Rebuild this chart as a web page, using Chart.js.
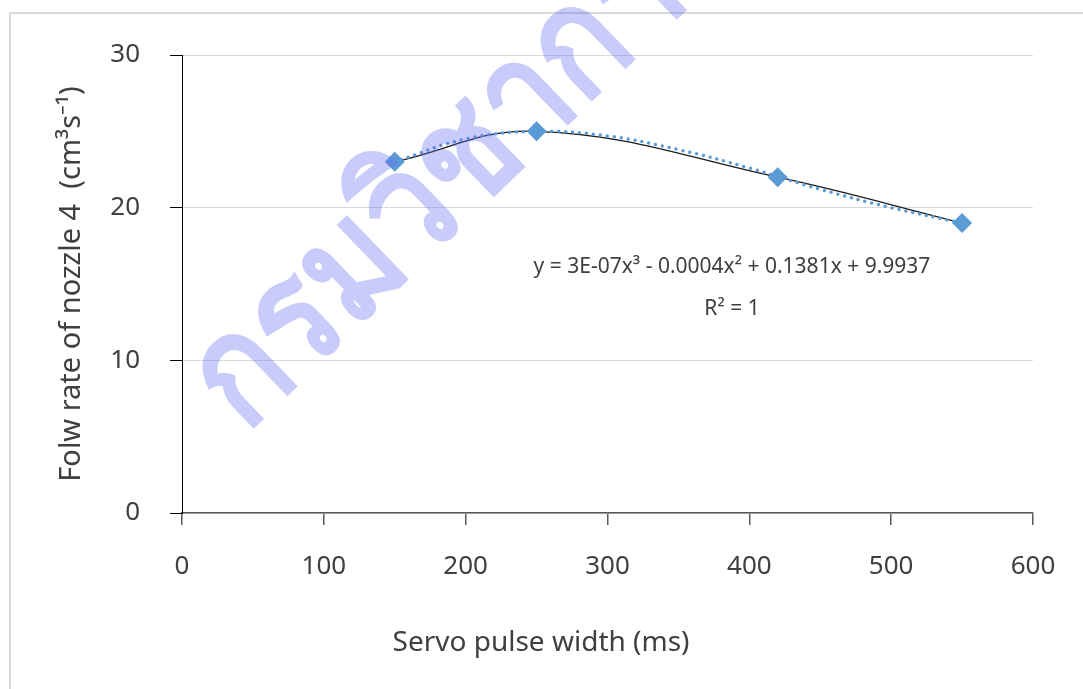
<!DOCTYPE html>
<html lang="en">
<head>
    <meta charset="UTF-8">
    <title>Servo pulse width vs flow rate</title>
    <script src="https://cdn.jsdelivr.net/npm/chart.js"></script>
    <style>
        body {
            margin: 0;
            background: #ffffff;
            font-family: "Noto Sans", sans-serif;
        }
        .frame {
            position: absolute;
            left: 9px;
            top: 12px;
            width: 1083px;
            height: 689px;
            border-left: 2px solid #d9d9d9;
            border-top: 2px solid #d9d9d9;
            box-sizing: border-box;
        }
        .wrap {
            position: absolute;
            left: 0;
            top: 0;
            width: 1083px;
            height: 689px;
        }
    </style>
</head>
<body>
    <div class="frame"></div>
    <div class="wrap"><canvas id="flowChart"></canvas></div>

    <script>
        // measured points (servo pulse width, flow rate of nozzle 4)
        const pulseWidth = [150, 250, 420, 550];
        const flowRate = [23, 25, 22, 19];

        // poly trendline
        const trendX = [150, 200, 250, 300, 350, 400, 450, 500, 550];
        const trendY = [23, 24.5, 25, 24.7, 23.8, 22.6, 21.2, 20.0, 19];

        const xTicks = [0, 100, 200, 300, 400, 500, 600];
        const yTicks = [0, 10, 20, 30];

        const equationText = 'y = 3E-07x\u00B3 - 0.0004x\u00B2 + 0.1381x + 9.9937';
        const r2Text = 'R\u00B2 = 1';
        const xTitle = 'Servo pulse width (ms)';
        const yTitle = 'Folw rate of nozzle 4  (cm\u00B3s\u207B\u00B9)';
        const watermark = 'กรมวิชาการเกษตร';

        const toPoints = (xs, ys) => xs.map((x, i) => ({ x: x, y: ys[i] }));

        const labelColor = '#404040';
        const fontFamily = '"Noto Sans", sans-serif';

        // equation, x title and the watermark
        const extrasPlugin = {
            id: 'extras',
            afterDatasetsDraw(chart) {
                const ctx = chart.ctx;
                ctx.save();
                ctx.fillStyle = labelColor;
                ctx.textAlign = 'center';
                ctx.textBaseline = 'middle';
                ctx.font = '21px ' + fontFamily;
                ctx.fillText(equationText, 732, 267);
                ctx.fillText(r2Text, 732, 309);
                ctx.font = '28px ' + fontFamily;
                ctx.fillText(xTitle, 541, 643);

                ctx.translate(245, 434);
                ctx.rotate(-44 * Math.PI / 180);
                ctx.scale(0.86, 1);
                ctx.textAlign = 'left';
                ctx.textBaseline = 'alphabetic';
                ctx.font = 'bold 152px ' + fontFamily;
                ctx.fillStyle = 'rgba(100, 110, 240, 0.35)';
                ctx.fillText(watermark, 0, 0);
                ctx.restore();
            }
        };

        new Chart(document.getElementById('flowChart').getContext('2d'), {
            type: 'scatter',
            data: {
                datasets: [
                    {
                        label: 'points',
                        data: toPoints(pulseWidth, flowRate),
                        pointStyle: 'rectRot',
                        pointRadius: 10,
                        pointBackgroundColor: '#5b9bd5',
                        pointBorderWidth: 0,
                        showLine: false,
                        order: 0
                    },
                    {
                        label: 'smooth',
                        data: toPoints(pulseWidth, flowRate),
                        showLine: true,
                        borderColor: '#1a1a1a',
                        borderWidth: 1.3,
                        tension: 0.4,
                        pointRadius: 0,
                        order: 2
                    },
                    {
                        label: 'trend',
                        data: toPoints(trendX, trendY),
                        showLine: true,
                        borderColor: '#5b9bd5',
                        borderWidth: 3.5,
                        borderDash: [0, 7],
                        borderCapStyle: 'round',
                        tension: 0.4,
                        pointRadius: 0,
                        order: 1
                    }
                ]
            },
            options: {
                responsive: true,
                maintainAspectRatio: false,
                animation: false,
                layout: { padding: { top: 55, right: 50, left: 0, bottom: 0 } },
                plugins: {
                    legend: { display: false },
                    tooltip: { enabled: false }
                },
                scales: {
                    x: {
                        type: 'linear',
                        min: 0,
                        max: 600,
                        afterBuildTicks: axis => { axis.ticks = xTicks.map(v => ({ value: v })); },
                        afterFit: axis => { axis.height = 176; },
                        grid: {
                            drawOnChartArea: false,
                            drawTicks: true,
                            tickLength: 12,
                            tickColor: '#595959',
                            lineWidth: 1.5
                        },
                        border: { color: '#595959', width: 1.5 },
                        ticks: {
                            color: labelColor,
                            padding: 26,
                            font: { family: fontFamily, size: 26 },
                            maxRotation: 0
                        }
                    },
                    y: {
                        min: 0,
                        max: 30,
                        afterBuildTicks: axis => { axis.ticks = yTicks.map(v => ({ value: v })); },
                        afterFit: axis => { axis.width = 182; },
                        grid: {
                            color: '#d9d9d9',
                            lineWidth: 1,
                            drawTicks: true,
                            tickLength: 12,
                            tickColor: '#000000'
                        },
                        border: { color: '#000000', width: 1 },
                        ticks: {
                            color: labelColor,
                            padding: 30,
                            font: { family: fontFamily, size: 26 }
                        },
                        title: {
                            display: true,
                            text: yTitle,
                            color: labelColor,
                            font: { family: fontFamily, size: 29 },
                            padding: { top: 54, bottom: 0 }
                        }
                    }
                }
            },
            plugins: [extrasPlugin]
        });
    </script>
</body>
</html>
